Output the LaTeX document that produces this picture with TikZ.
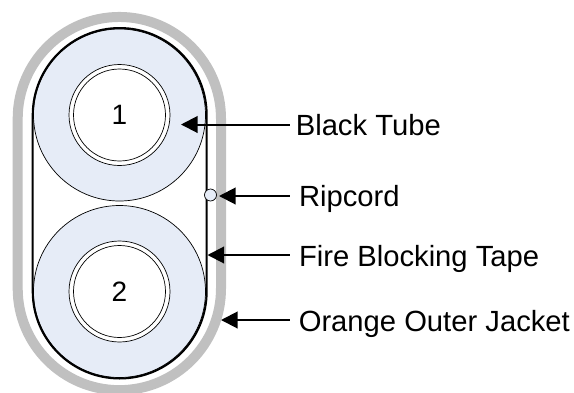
\documentclass[tikz,border=0pt]{standalone}
\usepackage{fontspec}
\setmainfont{Liberation Sans}
\usetikzlibrary{arrows.meta}
\definecolor{jack}{RGB}{192,192,192}
\definecolor{fillb}{RGB}{230,236,247}
\tikzset{x=1pt,y=-1pt,
 lab/.style={anchor=base west,inner sep=0pt,font=\fontsize{29.2}{32}\selectfont},
 num/.style={inner sep=0pt,font=\fontsize{28}{32}\selectfont},
 tube/.style={circle,draw=black,line width=.7pt,fill=fillb,minimum size=172pt,inner sep=0pt},
 ringo/.style={circle,draw=black,line width=.7pt,fill=white,minimum size=101pt,inner sep=0pt},
 ringi/.style={circle,draw=black,line width=.7pt,fill=white,minimum size=92pt,inner sep=0pt},
 point/.style={line width=2pt,-{Triangle[length=16.5pt,width=16.5pt]}}}
\begin{document}
\begin{tikzpicture}
\useasboundingbox (0,0) rectangle (574,392);
\fill[white] (0,0) rectangle (574,392);
\draw[jack,line width=10pt] (17.7,118.6) arc[start angle=180,end angle=360,radius=101.65] -- (221,288.5) arc[start angle=0,end angle=180,radius=101.65] -- cycle;
\node[tube] (t1) at (119.5,115) {};
\node[tube] (t2) at (119.5,291.5) {};
\draw[black,line width=2pt] (32.7,115) arc[start angle=180,end angle=360,radius=87] -- (206.7,291.5) arc[start angle=0,end angle=180,radius=87] -- cycle;
\node[ringo] (o1) at (119.5,115) {};
\node[ringi] (i1) at (119.5,115) {};
\node[ringo] (o2) at (119.5,291.5) {};
\node[ringi] (i2) at (119.5,291.5) {};
\node[num] at (i1) {1};
\node[num] at (i2) {2};
\node[circle,draw=black,line width=.7pt,fill=fillb,minimum size=12pt,inner sep=0pt] (rip) at (210.5,195) {};
\node[lab] (a) at (295.6,135.7) {Black Tube};
\node[lab] (b) at (298.8,206.7) {Ripcord};
\node[lab] (c) at (298.8,266.7) {Fire Blocking Tape};
\node[lab] (d) at (298.6,331.7) {Orange Outer Jacket};
\coordinate (ta) at (181,124.5);
\coordinate (tb) at (219,196);
\coordinate (tc) at (207.5,255);
\coordinate (td) at (221,320);
\draw[point] (a.west |- ta) ++(-6,0) -- (ta);
\draw[point] (b.west |- tb) ++(-9,0) -- (tb);
\draw[point] (c.west |- tc) ++(-9,0) -- (tc);
\draw[point] (d.west |- td) ++(-9,0) -- (td);
\end{tikzpicture}
\end{document}
